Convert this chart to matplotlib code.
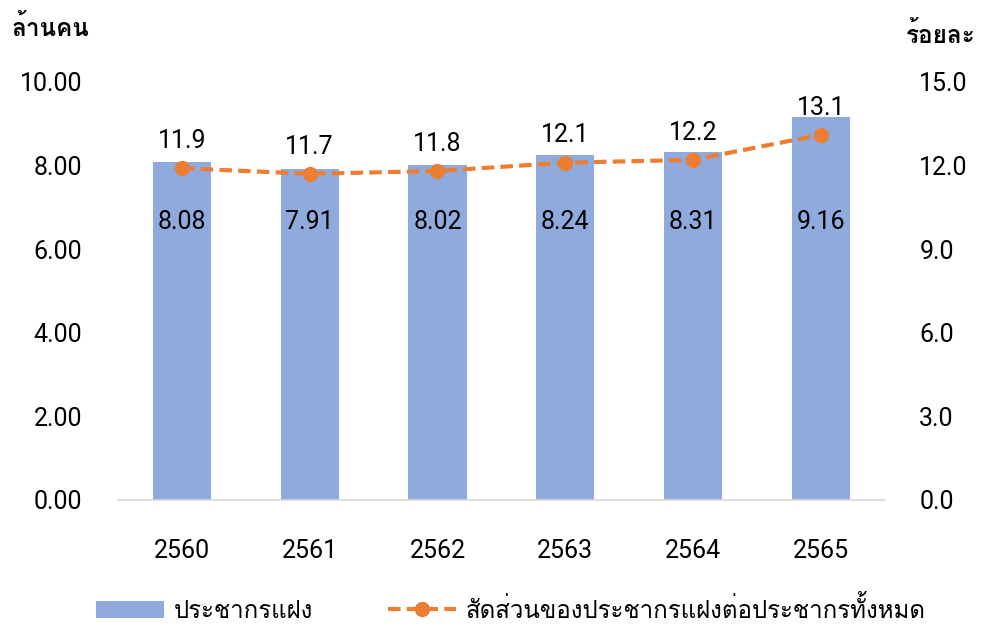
import matplotlib
matplotlib.use("Agg")
import matplotlib.pyplot as plt
from matplotlib import font_manager
from matplotlib.ft2font import FT2Font
from matplotlib.lines import Line2D
from matplotlib.patches import Patch

years = ["2560", "2561", "2562", "2563", "2564", "2565"]
pop_million = [8.08, 7.91, 8.02, 8.24, 8.31, 9.16]
share_pct = [11.9, 11.7, 11.8, 12.1, 12.2, 13.1]
left_ticks = [0, 2, 4, 6, 8, 10]
right_ticks = [0, 3, 6, 9, 12, 15]
left_unit = "ล้านคน"
right_unit = "ร้อยละ"
bar_name = "ประชากรแฝง"
line_name = "สัดส่วนของประชากรแฝงต่อประชากรทั้งหมด"

# find an installed font with Thai glyphs
thai_family = None
for f in font_manager.fontManager.ttflist:
    try:
        cm = FT2Font(f.fname).get_charmap()
        if 0x0E01 in cm and 0x0E48 in cm:
            thai_family = f.name
            break
    except Exception:
        pass
thai_fams = ([thai_family] if thai_family else []) + ["DejaVu Sans"]
num_fams = ["Roboto", "DejaVu Sans"]
plt.rcParams['font.family'] = num_fams

NUM_SIZE = 18

fig = plt.figure(figsize=(9.84, 6.26), dpi=100)
ax = fig.add_axes([0.12, 0.2013, 0.779, 0.668])
ax2 = ax.twinx()

x = list(range(len(years)))
bar_color = "#8faadc"
line_color = "#ed7d31"
ax.bar(x, pop_million, width=0.455, color=bar_color, zorder=2)
ax.set_ylim(0, 10)
ax.set_xlim(-0.5, len(years) - 0.5)
ax.set_yticks(left_ticks)
ax.set_yticklabels([f"{v:.2f}" for v in left_ticks])
ax.set_xticks(x)
ax.set_xticklabels(years)

ax2.plot(x, share_pct, color=line_color, linestyle=(0, (3, 1.5)), linewidth=3,
         marker="o", markersize=10, zorder=3)
ax2.set_ylim(0, 15)
ax2.set_yticks(right_ticks)
ax2.set_yticklabels([f"{v:.1f}" for v in right_ticks])

for a in (ax, ax2):
    for s in ("top", "left", "right"):
        a.spines[s].set_visible(False)
    a.tick_params(length=0, labelsize=NUM_SIZE, colors="#000000")
ax.spines["bottom"].set_color("#d9d9d9")
ax.spines["bottom"].set_linewidth(1.2)
ax2.spines["bottom"].set_visible(False)
ax.tick_params(axis="y", pad=26)
ax2.tick_params(axis="y", pad=25)
ax.tick_params(axis="x", pad=28)

for xi, v in zip(x, pop_million):
    ax.text(xi, 6.65, f"{v:.2f}", ha="center", va="center", fontsize=NUM_SIZE, zorder=4)
for xi, v in zip(x, share_pct):
    ax2.annotate(f"{v:.1f}", (xi, v), xytext=(0, 11), textcoords="offset points",
                 ha="center", va="bottom", fontsize=NUM_SIZE, zorder=5)

fig.text(0.012, 0.955, left_unit, fontsize=17.5, fontweight="bold", ha="left",
         va="center", family=thai_fams)
fig.text(0.991, 0.944, right_unit, fontsize=17.5, fontweight="bold", ha="right",
         va="center", family=thai_fams)

handles = [Patch(facecolor=bar_color, edgecolor="none"),
           Line2D([0], [0], color=line_color, linestyle=(0, (3, 1.5)), linewidth=3,
                  marker="o", markersize=10)]
fig.legend(handles, [bar_name, line_name], loc="center", bbox_to_anchor=(0.519, 0.027),
           ncol=2, frameon=False, prop={"family": thai_fams, "size": 17.3},
           handlelength=2.83, columnspacing=3.1, handletextpad=0.42)

fig.savefig("out.png", dpi=100)
